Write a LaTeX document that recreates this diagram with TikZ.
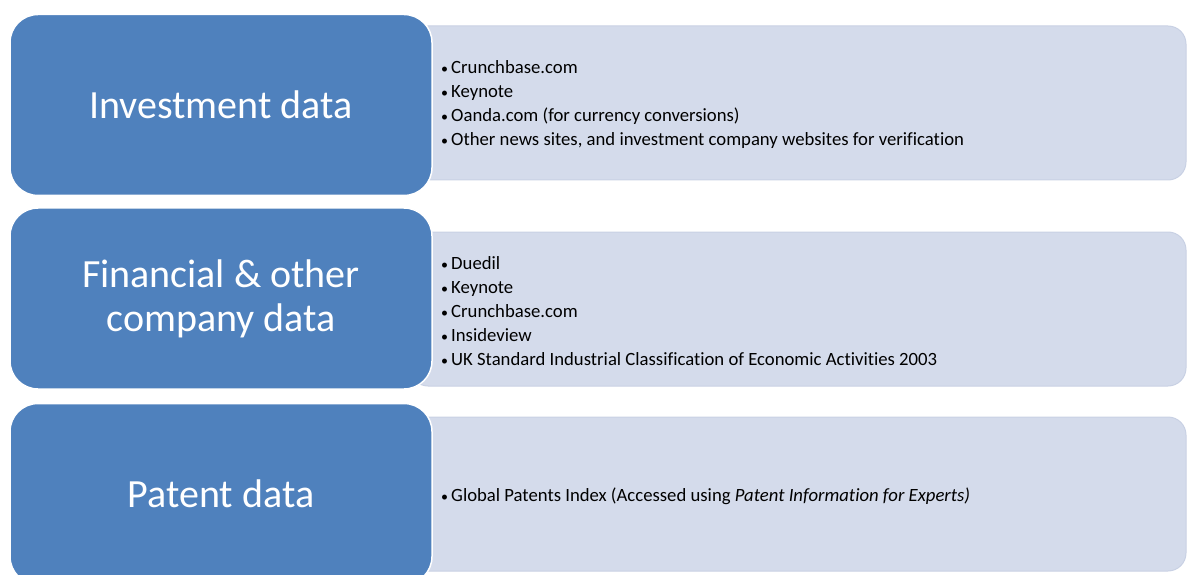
\documentclass[tikz,border=0pt]{standalone}
\usepackage{fontspec}
\setmainfont{Carlito}[Ligatures=NoCommon]
\definecolor{headblue}{RGB}{79,129,189}
\definecolor{listfill}{RGB}{212,219,235}
\definecolor{listedge}{RGB}{201,209,228}
\tikzset{
	head/.style={fill=headblue,draw=white,line width=1.5pt,rounded corners=28pt,
		minimum width=422pt,minimum height=181pt,inner sep=0pt,
		text=white,align=center,font=\fontsize{40}{44}\selectfont},
	list/.style={fill=listfill,draw=listedge,line width=1pt,rounded corners=18pt,
		minimum width=776pt,minimum height=154pt,inner sep=0pt},
	items/.style={anchor=west,align=left,inner sep=0pt,font=\fontsize{18.7}{24}\selectfont},
}
\newcommand{\bul}{\makebox[11pt][l]{\hspace{1pt}\fontsize{14}{14}\selectfont•}}
\begin{document}
\begin{tikzpicture}[x=1pt,y=-1pt]
\useasboundingbox (0,0) rectangle (1187,575);
\clip (0,0) rectangle (1187,575);
\path
	(798,103) node [list] (invlist) {}
	(798,309) node [list] (finlist) {}
	(798,494) node [list] (patlist) {}
	(221,105) node [head] (invhead) {Investment data}
	(221,298.5) node [head] (finhead) {Financial \& other\\company data}
	(221,494) node [head] (pathead) {Patent data};
\path
	(440,105) node [items] (invitems) {\bul Crunchbase.com\\\bul Keynote\\\bul Oanda.com (for currency conversions)\\\bul Other news sites, and investment company websites for verification}
	(440,311) node [items] (finitems) {\bul Duedil\\\bul Keynote\\\bul Crunchbase.com\\\bul Insideview\\\bul UK Standard Industrial Classification of Economic Activities 2003}
	(440,496) node [items] (patitems) {\bul Global Patents Index (Accessed using \textit{Patent Information for Experts)}};
\end{tikzpicture}
\end{document}
